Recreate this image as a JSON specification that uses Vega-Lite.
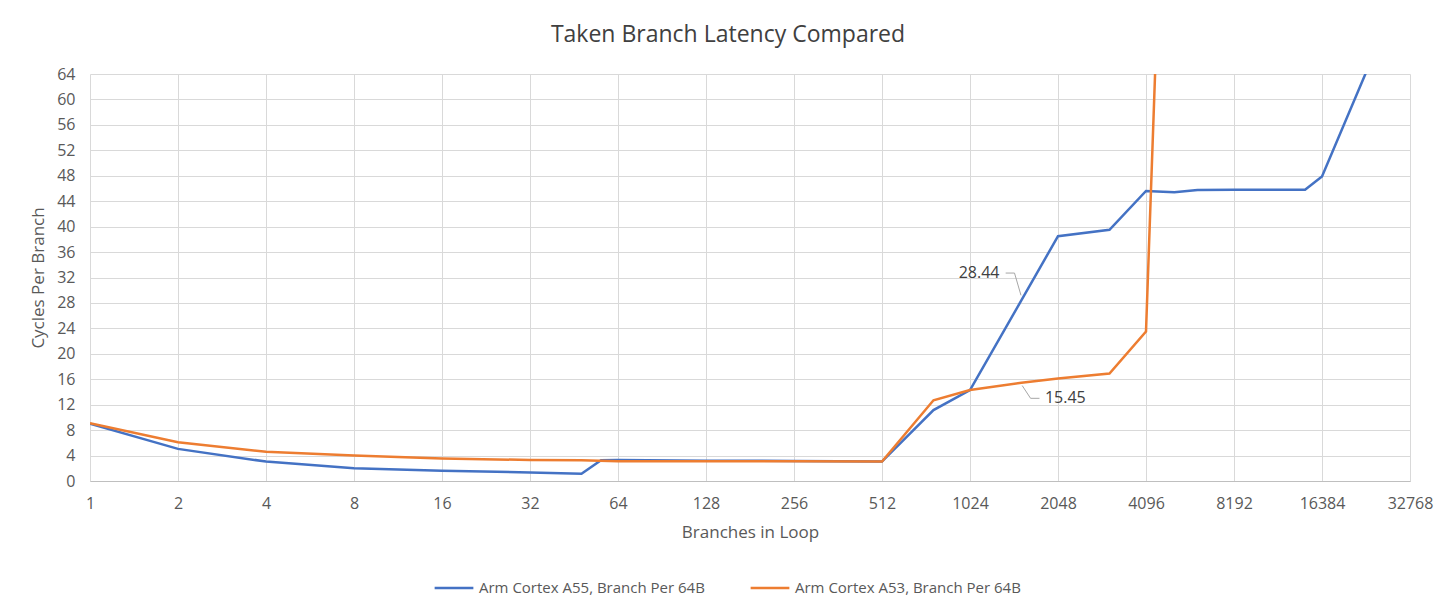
{
  "$schema": "https://vega.github.io/schema/vega-lite/v6.json",
  "width": 1320,
  "height": 407,
  "autosize": "none",
  "padding": {"left": 90, "top": 74, "right": 46, "bottom": 133},
  "background": "#ffffff",
  "config": {
    "font": "Open Sans",
    "view": {"stroke": null}
  },
  "title": {
    "text": "Taken Branch Latency Compared",
    "fontSize": 23,
    "fontWeight": "normal",
    "color": "#404040",
    "anchor": "middle",
    "offset": 19,
    "dx": -22
  },
  "datasets": {
    "series": [
      {"cpu": "Arm Cortex A55, Branch Per 64B", "n": 1, "cpb": 9.0},
      {"cpu": "Arm Cortex A55, Branch Per 64B", "n": 2, "cpb": 5.05},
      {"cpu": "Arm Cortex A55, Branch Per 64B", "n": 4, "cpb": 3.05},
      {"cpu": "Arm Cortex A55, Branch Per 64B", "n": 8, "cpb": 2.0},
      {"cpu": "Arm Cortex A55, Branch Per 64B", "n": 16, "cpb": 1.6},
      {"cpu": "Arm Cortex A55, Branch Per 64B", "n": 32, "cpb": 1.35},
      {"cpu": "Arm Cortex A55, Branch Per 64B", "n": 48, "cpb": 1.15},
      {"cpu": "Arm Cortex A55, Branch Per 64B", "n": 56, "cpb": 3.25},
      {"cpu": "Arm Cortex A55, Branch Per 64B", "n": 64, "cpb": 3.3},
      {"cpu": "Arm Cortex A55, Branch Per 64B", "n": 128, "cpb": 3.2},
      {"cpu": "Arm Cortex A55, Branch Per 64B", "n": 256, "cpb": 3.15},
      {"cpu": "Arm Cortex A55, Branch Per 64B", "n": 512, "cpb": 3.05},
      {"cpu": "Arm Cortex A55, Branch Per 64B", "n": 768, "cpb": 11.15},
      {"cpu": "Arm Cortex A55, Branch Per 64B", "n": 1024, "cpb": 14.3},
      {"cpu": "Arm Cortex A55, Branch Per 64B", "n": 1536, "cpb": 28.44},
      {"cpu": "Arm Cortex A55, Branch Per 64B", "n": 2048, "cpb": 38.5},
      {"cpu": "Arm Cortex A55, Branch Per 64B", "n": 3072, "cpb": 39.5},
      {"cpu": "Arm Cortex A55, Branch Per 64B", "n": 4096, "cpb": 45.6},
      {"cpu": "Arm Cortex A55, Branch Per 64B", "n": 5120, "cpb": 45.4},
      {"cpu": "Arm Cortex A55, Branch Per 64B", "n": 6144, "cpb": 45.75},
      {"cpu": "Arm Cortex A55, Branch Per 64B", "n": 8192, "cpb": 45.8},
      {"cpu": "Arm Cortex A55, Branch Per 64B", "n": 14336, "cpb": 45.8},
      {"cpu": "Arm Cortex A55, Branch Per 64B", "n": 16384, "cpb": 47.9},
      {"cpu": "Arm Cortex A55, Branch Per 64B", "n": 24576, "cpb": 67},
      {"cpu": "Arm Cortex A53, Branch Per 64B", "n": 1, "cpb": 9.1},
      {"cpu": "Arm Cortex A53, Branch Per 64B", "n": 2, "cpb": 6.1},
      {"cpu": "Arm Cortex A53, Branch Per 64B", "n": 4, "cpb": 4.6},
      {"cpu": "Arm Cortex A53, Branch Per 64B", "n": 8, "cpb": 4.0},
      {"cpu": "Arm Cortex A53, Branch Per 64B", "n": 16, "cpb": 3.55},
      {"cpu": "Arm Cortex A53, Branch Per 64B", "n": 32, "cpb": 3.3},
      {"cpu": "Arm Cortex A53, Branch Per 64B", "n": 48, "cpb": 3.25},
      {"cpu": "Arm Cortex A53, Branch Per 64B", "n": 64, "cpb": 3.1},
      {"cpu": "Arm Cortex A53, Branch Per 64B", "n": 128, "cpb": 3.1},
      {"cpu": "Arm Cortex A53, Branch Per 64B", "n": 256, "cpb": 3.1},
      {"cpu": "Arm Cortex A53, Branch Per 64B", "n": 512, "cpb": 3.05},
      {"cpu": "Arm Cortex A53, Branch Per 64B", "n": 768, "cpb": 12.7},
      {"cpu": "Arm Cortex A53, Branch Per 64B", "n": 1024, "cpb": 14.3},
      {"cpu": "Arm Cortex A53, Branch Per 64B", "n": 1536, "cpb": 15.45},
      {"cpu": "Arm Cortex A53, Branch Per 64B", "n": 2048, "cpb": 16.1},
      {"cpu": "Arm Cortex A53, Branch Per 64B", "n": 3072, "cpb": 16.9},
      {"cpu": "Arm Cortex A53, Branch Per 64B", "n": 4096, "cpb": 23.5},
      {"cpu": "Arm Cortex A53, Branch Per 64B", "n": 5120, "cpb": 150}
    ],
    "leaders": [
      {"id": "a", "step": 1, "n": 1356, "cpb": 32.7},
      {"id": "a", "step": 2, "n": 1454, "cpb": 32.7},
      {"id": "a", "step": 3, "n": 1530, "cpb": 29.2},
      {"id": "b", "step": 1, "n": 1545, "cpb": 15.0},
      {"id": "b", "step": 2, "n": 1650, "cpb": 13.0},
      {"id": "b", "step": 3, "n": 1770, "cpb": 13.0}
    ],
    "notes": [
      {"label": "28.44", "n": 1100, "cpb": 32.7},
      {"label": "15.45", "n": 2170, "cpb": 13.0}
    ]
  },
  "encoding": {
    "x": {
      "field": "n",
      "type": "quantitative",
      "title": "Branches in Loop",
      "scale": {"type": "log", "base": 2, "domain": [1, 32768], "nice": false},
      "axis": {
        "values": [1, 2, 4, 8, 16, 32, 64, 128, 256, 512, 1024, 2048, 4096, 8192, 16384, 32768],
        "format": "d",
        "grid": true,
        "gridColor": "#d9d9d9",
        "domainColor": "#bfbfbf",
        "ticks": false,
        "labelPadding": 14,
        "labelFontSize": 16,
        "labelColor": "#595959",
        "labelFlush": false,
        "titleFontSize": 17,
        "titleFontWeight": "normal",
        "titleColor": "#595959",
        "titlePadding": 13
      }
    },
    "y": {
      "field": "cpb",
      "type": "quantitative",
      "title": "Cycles Per Branch",
      "scale": {"domain": [0, 64], "nice": false},
      "axis": {
        "values": [0, 4, 8, 12, 16, 20, 24, 28, 32, 36, 40, 44, 48, 52, 56, 60, 64],
        "grid": true,
        "gridColor": "#d9d9d9",
        "domain": false,
        "ticks": false,
        "labelPadding": 15,
        "labelFontSize": 16,
        "labelColor": "#595959",
        "labelFlush": false,
        "titleFontSize": 17,
        "titleFontWeight": "normal",
        "titleColor": "#595959",
        "titlePadding": 9
      }
    }
  },
  "layer": [
    {
      "data": {"name": "series"},
      "mark": {"type": "line", "clip": true, "strokeWidth": 2.5},
      "encoding": {
        "color": {
          "field": "cpu",
          "type": "nominal",
          "scale": {
            "domain": ["Arm Cortex A55, Branch Per 64B", "Arm Cortex A53, Branch Per 64B"],
            "range": ["#4472c4", "#ed7d31"]
          },
          "legend": {
            "title": null,
            "orient": "none",
            "direction": "horizontal",
            "legendX": 343,
            "legendY": 493,
            "symbolType": "stroke",
            "symbolSize": 1500,
            "symbolStrokeWidth": 2.5,
            "labelFontSize": 15,
            "labelColor": "#595959",
            "labelOffset": 4,
            "columnPadding": 40,
            "labelLimit": 400
          }
        }
      }
    },
    {
      "data": {"name": "leaders"},
      "mark": {"type": "line", "color": "#a6a6a6", "strokeWidth": 1},
      "encoding": {
        "detail": {"field": "id"},
        "order": {"field": "step", "type": "quantitative"}
      }
    },
    {
      "data": {"name": "notes"},
      "mark": {"type": "text", "fontSize": 16, "color": "#404040", "align": "center", "baseline": "middle"},
      "encoding": {
        "text": {"field": "label"}
      }
    }
  ]
}
